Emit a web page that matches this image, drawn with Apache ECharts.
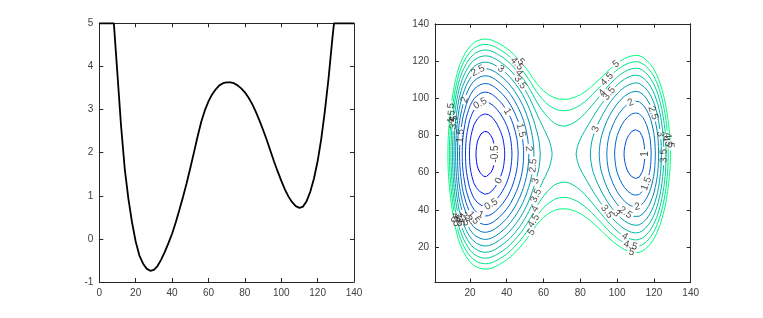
<!DOCTYPE html>
<html>
<head>
<meta charset="utf-8">
<script src="https://cdn.jsdelivr.net/npm/echarts@6/dist/echarts.min.js"></script>
<style>
  html, body { margin: 0; padding: 0; background: #fff; }
  #chart { width: 763px; height: 318px; }
</style>
</head>
<body>
<div id="chart"></div>
<script>
  // left panel: potential curve (clamped at 5 at both ends)
  const xVals = [0, 2, 4, 6, 8, 9, 10, 12, 14, 16, 18, 20, 22, 24, 26, 28, 30, 32, 34, 36, 38, 40,
    42, 44, 46, 48, 50, 52, 54, 56, 58, 60, 62, 64, 66, 68, 70, 72, 74, 76, 78, 80, 82, 84, 86, 88,
    90, 92, 94, 96, 98, 100, 102, 104, 106, 108, 110, 112, 114, 116, 118, 120, 122, 124, 126, 128,
    129, 130, 132, 134, 136, 138, 140]
  const vVals = [5, 5, 5, 5, 5, 4.4, 3.8, 2.6, 1.62, 0.93, 0.38, -0.06, -0.38, -0.57, -0.69, -0.74,
    -0.72, -0.63, -0.48, -0.3, -0.1, 0.12, 0.38, 0.67, 0.97, 1.29, 1.64, 2.0, 2.37, 2.71, 2.98, 3.19,
    3.35, 3.47, 3.56, 3.61, 3.63, 3.63, 3.61, 3.56, 3.49, 3.4, 3.28, 3.13, 2.95, 2.75, 2.53, 2.3, 2.05,
    1.8, 1.57, 1.35, 1.15, 0.98, 0.85, 0.76, 0.72, 0.75, 0.88, 1.1, 1.4, 1.8, 2.32, 2.97, 3.72, 4.6,
    5, 5, 5, 5, 5, 5, 5]

  // right panel: field = V(x) + W(y), W
  const yVals = [0, 2, 4, 6, 8, 10, 12, 14, 16, 18, 20, 22, 24, 26, 28, 30, 32, 34, 36, 38, 40, 42,
    44, 46, 48, 50, 52, 54, 56, 58, 60, 62, 64, 66, 68, 70, 72, 74, 76, 78, 80, 82, 84, 86, 88, 90,
    92, 94, 96, 98, 100, 102, 104, 106, 108, 110, 112, 114, 116, 118, 120, 122, 124, 126, 128, 130,
    132, 134, 136, 138, 140]
  const wVals = [7.26, 6.87, 6.5, 6.13, 5.77, 5.42, 5.08, 4.75, 4.43, 4.12, 3.83, 3.54, 3.26, 2.99,
    2.73, 2.49, 2.25, 2.03, 1.81, 1.61, 1.42, 1.24, 1.07, 0.92, 0.77, 0.64, 0.52, 0.41, 0.32, 0.23,
    0.16, 0.1, 0.06, 0.03, 0.01, 0, 0.01, 0.03, 0.06, 0.1, 0.16, 0.23, 0.32, 0.41, 0.52, 0.64, 0.77,
    0.92, 1.07, 1.24, 1.42, 1.61, 1.81, 2.03, 2.25, 2.49, 2.73, 2.99, 3.26, 3.54, 3.83, 4.12, 4.43,
    4.75, 5.08, 5.42, 5.77, 6.13, 6.5, 6.87, 7.26]
  const levels = [-0.5, 0, 0.5, 1, 1.5, 2, 2.5, 3, 3.5, 4, 4.5, 5]
  const contourTicks = [20, 40, 60, 80, 100, 120, 140]

  const FONT = '"Liberation Sans", Arial, Helvetica, sans-serif'
  const AXIS_COLOR = '#262626'
  const LABEL_COLOR = '#404040'

  const G1 = {left: 99.3, top: 23.3, width: 254.7, height: 258.7}
  const G2 = {left: 435, top: 23.8, width: 255.7, height: 258.7}
  const CMIN = 1, CMAX = 140
  const SX = G2.width / (CMAX - CMIN)
  const SY = G2.height / (CMAX - CMIN)
  // inline label placement: first label, then fixed spacing along the line (px)
  const FIRST_LABEL = 66
  const SPACING = 124

  const field = wVals.map(w => vVals.map(v => v + w))

  // marching squares on the (xVals, yVals) grid
  function traceLevel (lev) {
    const nx = xVals.length
    const ny = yVals.length
    const pos = {}
    const adj = {}
    const edgePoint = (key, i, j, horiz) => {
      if (pos[key]) return
      const a = field[j][i]
      const b = horiz ? field[j][i + 1] : field[j + 1][i]
      const t = b === a ? 0.5 : (lev - a) / (b - a)
      pos[key] = horiz
        ? [xVals[i] + t * (xVals[i + 1] - xVals[i]), yVals[j]]
        : [xVals[i], yVals[j] + t * (yVals[j + 1] - yVals[j])]
    }
    const link = (p, q) => {
      (adj[p] = adj[p] || []).push(q);
      (adj[q] = adj[q] || []).push(p)
    }
    const table = {1: [[0, 3]], 2: [[0, 1]], 3: [[1, 3]], 4: [[1, 2]], 6: [[0, 2]], 7: [[2, 3]],
      8: [[2, 3]], 9: [[0, 2]], 11: [[1, 2]], 12: [[1, 3]], 13: [[0, 1]], 14: [[0, 3]]}
    for (let j = 0; j < ny - 1; j++) {
      for (let i = 0; i < nx - 1; i++) {
        const f0 = field[j][i], f1 = field[j][i + 1], f2 = field[j + 1][i + 1], f3 = field[j + 1][i]
        const c = (f0 >= lev ? 1 : 0) | (f1 >= lev ? 2 : 0) | (f2 >= lev ? 4 : 0) | (f3 >= lev ? 8 : 0)
        if (c === 0 || c === 15) continue
        const e = ['h' + i + '_' + j, 'v' + (i + 1) + '_' + j, 'h' + i + '_' + (j + 1), 'v' + i + '_' + j]
        let segs = table[c]
        if (c === 5 || c === 10) {
          const mid = (f0 + f1 + f2 + f3) / 4 >= lev
          if (c === 5) segs = mid ? [[0, 1], [2, 3]] : [[0, 3], [1, 2]]
          else segs = mid ? [[0, 3], [1, 2]] : [[0, 1], [2, 3]]
        }
        segs.forEach(s => {
          s.forEach(k => {
            if (k === 0) edgePoint(e[0], i, j, true)
            if (k === 1) edgePoint(e[1], i + 1, j, false)
            if (k === 2) edgePoint(e[2], i, j + 1, true)
            if (k === 3) edgePoint(e[3], i, j, false)
          })
          link(e[s[0]], e[s[1]])
        })
      }
    }
    const seen = {}
    const lines = []
    const keys = Object.keys(adj)
    keys.filter(k => adj[k].length === 1).concat(keys).forEach(k0 => {
      if (seen[k0]) return
      const chain = [k0]
      seen[k0] = true
      let prev = null
      let cur = k0
      for (;;) {
        const nxt = adj[cur].find(k => k !== prev && !seen[k])
        if (nxt === undefined) break
        seen[nxt] = true
        chain.push(nxt)
        prev = cur
        cur = nxt
      }
      const closed = chain.length > 2 && adj[cur].indexOf(k0) >= 0
      let pts = chain.map(k => pos[k])
      if (closed) {
        // counter-clockwise, starting from the leftmost point
        let area = 0
        for (let n = 0; n < pts.length; n++) {
          const p = pts[n], q = pts[(n + 1) % pts.length]
          area += p[0] * q[1] - q[0] * p[1]
        }
        if (area < 0) pts.reverse()
        let m = 0
        pts.forEach((p, n) => { if (p[0] < pts[m][0]) m = n })
        pts = pts.slice(m).concat(pts.slice(0, m))
        pts.push(pts[0])
      }
      lines.push({pts: pts, closed: closed})
    })
    return lines
  }

  function textWidth (s) {
    let w = 0
    for (const ch of s) w += ch === '.' ? 2.8 : (ch === '-' ? 3.4 : 5.6)
    return w
  }

  function winter (lev) {
    const t = Math.min(1, Math.max(0, (lev + 0.74) / 5.74))
    return 'rgb(0,' + Math.round(255 * t) + ',' + Math.round(255 * (1 - 0.5 * t)) + ')'
  }

  const contourSeries = []
  const labelData = []

  levels.forEach(lev => {
    const text = String(lev)
    const color = winter(lev)
    traceLevel(lev).forEach(line => {
      const pts = line.pts
      const cum = [0]
      for (let n = 1; n < pts.length; n++) {
        const dx = (pts[n][0] - pts[n - 1][0]) * SX
        const dy = (pts[n][1] - pts[n - 1][1]) * SY
        cum.push(cum[n - 1] + Math.sqrt(dx * dx + dy * dy))
      }
      const L = cum[cum.length - 1]
      const at = s => {
        s = Math.max(0, Math.min(L, s))
        let n = 0
        while (n < cum.length - 2 && cum[n + 1] < s) n++
        const seg = cum[n + 1] - cum[n]
        const t = seg > 0 ? (s - cum[n]) / seg : 0
        return [pts[n][0] + t * (pts[n + 1][0] - pts[n][0]), pts[n][1] + t * (pts[n + 1][1] - pts[n][1])]
      }
      const piece = (a, b) => {
        const out = [at(a)]
        for (let n = 0; n < pts.length; n++) if (cum[n] > a && cum[n] < b) out.push(pts[n])
        out.push(at(b))
        return out
      }
      const gap = textWidth(text) + 4
      const centers = []
      if (L > gap * 2.5) {
        let first = Math.min(FIRST_LABEL, L / 2)
        for (let s = first; s < L - gap; s += SPACING) centers.push(s)
      }

      centers.forEach(s => {
        const p = at(s)
        const a = at(s - 4)
        const b = at(s + 4)
        let deg = Math.atan2((b[1] - a[1]) * SY, (b[0] - a[0]) * SX) * 180 / Math.PI
        if (deg > 90) deg -= 180
        if (deg < -90) deg += 180
        labelData.push({value: p, label: {formatter: text, rotate: deg}})
      })

      const pieces = []
      let start = 0
      centers.forEach(s => {
        pieces.push(piece(start, s - gap / 2))
        start = s + gap / 2
      })
      pieces.push(piece(start, L))
      if (line.closed && centers.length > 0 && pieces.length > 1) {
        const first = pieces.shift()
        const last = pieces.pop()
        pieces.push(last.concat(first.slice(1)))
      }
      pieces.forEach(pc => {
        contourSeries.push({
          type: 'line',
          xAxisIndex: 2,
          yAxisIndex: 2,
          data: pc,
          showSymbol: false,
          symbol: 'none',
          silent: true,
          lineStyle: {color: color, width: 1},
          z: 2
        })
      })
    })
  })

  function makeAxis (gridIndex, position, min, max, interval, showLabel, custom) {
    const ax = {
      type: 'value',
      gridIndex: gridIndex,
      position: position,
      min: min,
      max: max,
      axisLine: {show: true, onZero: false, lineStyle: {color: AXIS_COLOR, width: 1}},
      axisTick: {show: true, inside: true, length: 4, lineStyle: {color: AXIS_COLOR}},
      axisLabel: {show: showLabel, color: LABEL_COLOR, fontSize: 10, fontFamily: FONT, margin: 6},
      splitLine: {show: false}
    }
    if (interval) ax.interval = interval
    if (custom) {
      ax.axisTick.customValues = custom
      ax.axisLabel.customValues = custom
    }
    return ax
  }

  const option = {
    animation: false,
    backgroundColor: '#fff',
    grid: [
      Object.assign({containLabel: false}, G1),
      Object.assign({containLabel: false}, G2)
    ],
    xAxis: [
      makeAxis(0, 'bottom', 0, 140, 20, true),
      makeAxis(0, 'top', 0, 140, 20, false),
      makeAxis(1, 'bottom', CMIN, CMAX, null, true, contourTicks),
      makeAxis(1, 'top', CMIN, CMAX, null, false, contourTicks)
    ],
    yAxis: [
      makeAxis(0, 'left', -1, 5, 1, true),
      makeAxis(0, 'right', -1, 5, 1, false),
      makeAxis(1, 'left', CMIN, CMAX, null, true, contourTicks),
      makeAxis(1, 'right', CMIN, CMAX, null, false, contourTicks)
    ],
    series: [
      {
        type: 'line',
        xAxisIndex: 0,
        yAxisIndex: 0,
        data: xVals.map((x, n) => [x, vVals[n]]),
        showSymbol: false,
        symbol: 'none',
        clip: false,
        silent: true,
        lineStyle: {color: '#000', width: 1.8},
        z: 3
      }
    ].concat(contourSeries, [{
      type: 'scatter',
      xAxisIndex: 2,
      yAxisIndex: 2,
      symbolSize: 1,
      itemStyle: {color: 'rgba(0,0,0,0)'},
      silent: true,
      z: 4,
      label: {show: true, position: 'inside', color: '#1a1a1a', fontSize: 10, fontFamily: FONT},
      data: labelData
    }])
  }

  const chart = echarts.init(document.getElementById('chart'))
  chart.setOption(option)
</script>
</body>
</html>
